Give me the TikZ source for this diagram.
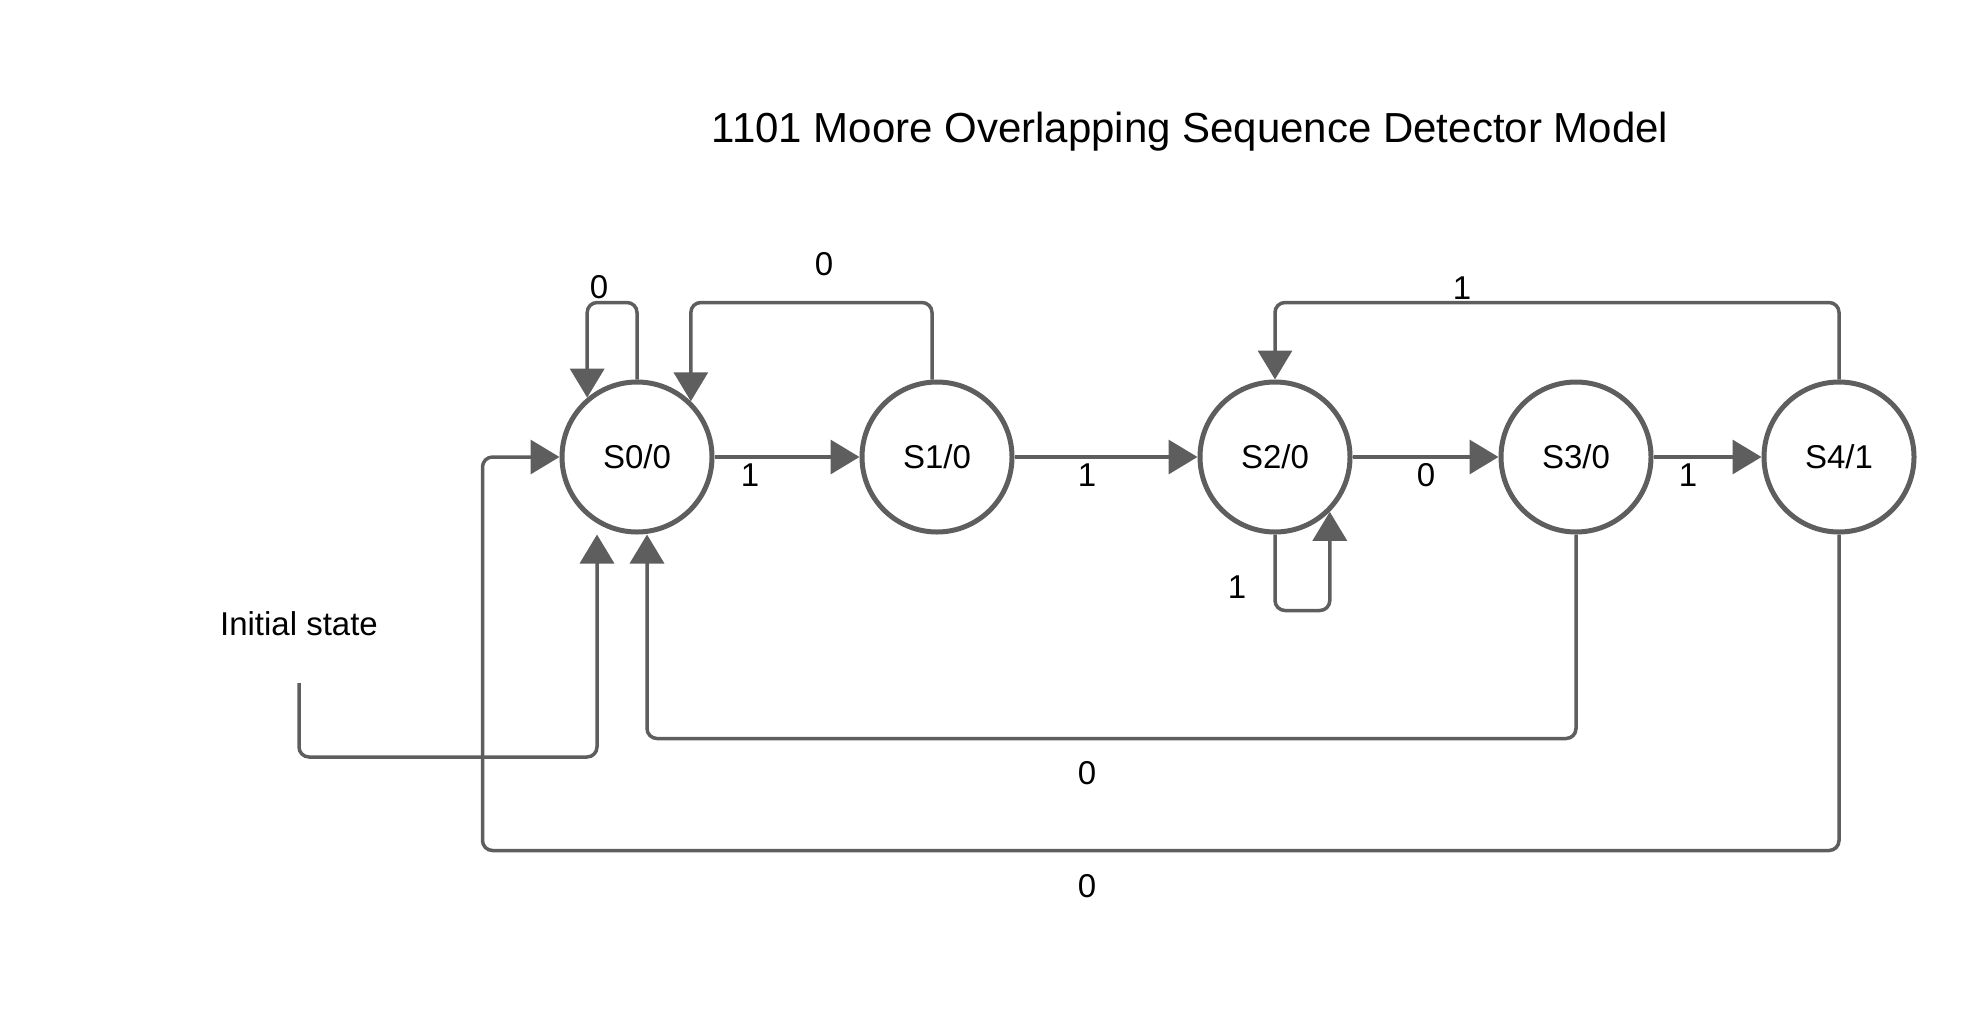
\documentclass[tikz,border=0pt]{standalone}
\usepackage{fontspec}
\setmainfont{Liberation Sans}
\usetikzlibrary{arrows.meta}
\definecolor{edge}{HTML}{5E5E5E}

\begin{document}
\begin{tikzpicture}[x=1pt,y=-1pt,
  state/.style={circle, draw=edge, line width=5pt, minimum size=150pt,
    inner sep=0pt, font=\fontsize{33}{40}\selectfont},
  link/.style={draw=edge, line width=3.5pt, rounded corners=10pt,
    -{Triangle[length=29pt,width=34pt]}},
  lbl/.style={font=\fontsize{33}{40}\selectfont, inner sep=0pt}]
\useasboundingbox (0,0) rectangle (1988,1020);

% title
\node[font=\fontsize{42}{50}\selectfont] (title) at (1190,132)
  {1101 Moore Overlapping Sequence Detector Model};

% states
\node[state] (s0) at (637,457) {S0/0};
\node[state] (s1) at (937,457) {S1/0};
\node[state] (s2) at (1275,457) {S2/0};
\node[state] (s3) at (1576,457) {S3/0};
\node[state] (s4) at (1839,457) {S4/1};

% forward transitions
\draw[link] (s0.east) -- (s1.west);
\draw[link] (s1.east) -- (s2.west);
\draw[link] (s2.east) -- (s3.west);
\draw[link] (s3.east) -- (s4.west);

% loops and returns over the top
\draw[link] (s0.north) -- ++(0,-77) -| (s0.130.5);
\draw[link] ([xshift=-5pt]s1.north) -- ++(0,-77) -| (s0.46.5);
\draw[link] (s4.north) -- ++(0,-77) -| (s2.north);

% S2 self-loop below
\draw[link] (s2.south) -- ++(0,76) -| (s2.-45.5);

% returns below
\draw[link] (s3.south) -- ++(0,204) -| ([xshift=10pt]s0.south);
\draw[link] (s4.south) -- ++(0,316) -| ([xshift=-77pt]s0.west) -- (s0.west);

% initial state entry
\node[lbl] (initlbl) at (299,624) {Initial state};
\coordinate (init) at (299,683);
\draw[link] (init) -- ++(0,74) -| ([xshift=-40pt]s0.south);

% transition labels
\node[lbl] (l00) at (599,287) {0};
\node[lbl] (l10) at (824,264) {0};
\node[lbl] (l01) at (750,475) {1};
\node[lbl] (l12) at (1087,475) {1};
\node[lbl] (l23) at (1426,475) {0};
\node[lbl] (l34) at (1688,475) {1};
\node[lbl] (l22) at (1237,587) {1};
\node[lbl] (l42) at (1462,288) {1};
\node[lbl] (l30) at (1087,773) {0};
\node[lbl] (l40) at (1087,886) {0};
\end{tikzpicture}
\end{document}
